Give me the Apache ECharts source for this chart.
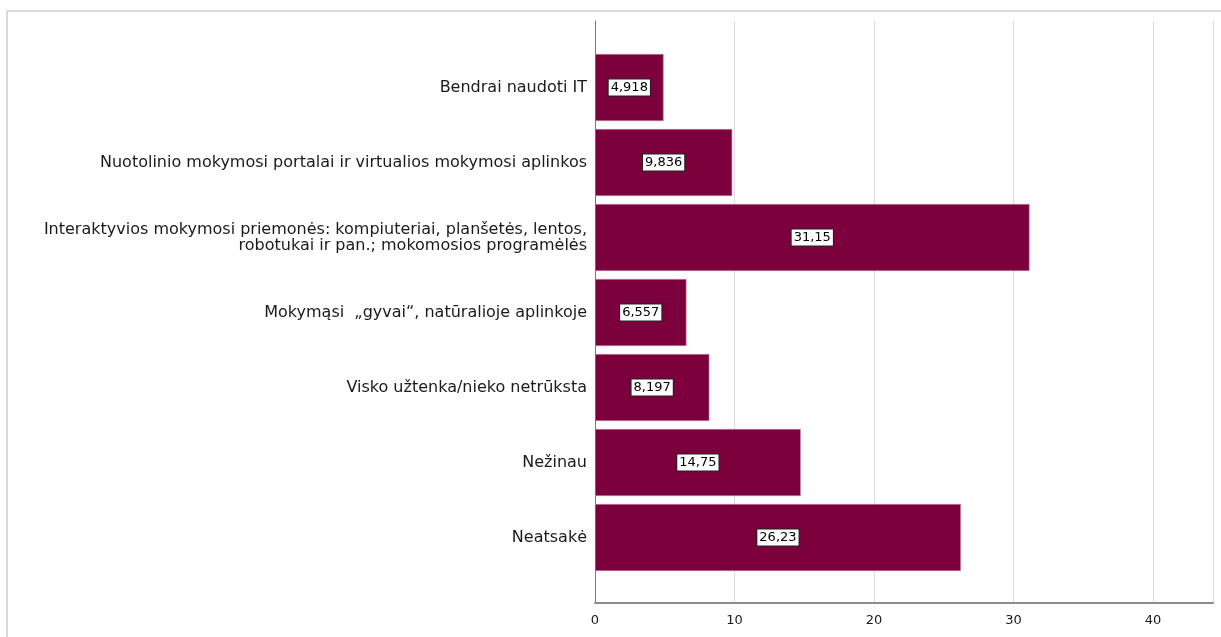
<!DOCTYPE html>
<html>
<head>
<meta charset="utf-8">
<script src="https://cdn.jsdelivr.net/npm/echarts@6/dist/echarts.min.js"></script>
<style>
  html, body { margin: 0; padding: 0; background: #fff; }
  #container { width: 1221px; height: 637px; }
</style>
</head>
<body>
<div id="container"></div>
<script>
// kategorijos (iš viršaus į apačią)
const categories = [
  'Bendrai naudoti IT',
  'Nuotolinio mokymosi portalai ir virtualios mokymosi aplinkos',
  'Interaktyvios mokymosi priemonės: kompiuteriai, planšetės, lentos,\nrobotukai ir pan.; mokomosios programėlės',
  'Mokymąsi  „gyvai“, natūralioje aplinkoje',
  'Visko užtenka/nieko netrūksta',
  'Nežinau',
  'Neatsakė'
];
const values = [4.918, 9.836, 31.15, 6.557, 8.197, 14.75, 26.23];
const valueLabels = ['4,918', '9,836', '31,15', '6,557', '8,197', '14,75', '26,23'];
const xTicks = [0, 10, 20, 30, 40];

const xMax = 44.3;
const font = 'DejaVu Sans, Liberation Sans, sans-serif';

let chart = echarts.init(document.getElementById('container'));
let option = {
  backgroundColor: '#fff',
  animation: false,
  graphic: [{
    type: 'rect',
    shape: { x: 7, y: 11, width: 1300, height: 700 },
    style: { fill: 'none', stroke: '#d9d9d9', lineWidth: 2 },
    silent: true
  }],
  grid: [
    // ašys + tinklelis
    { left: 595, right: 8, top: 21, bottom: 34 },
    // stulpeliai
    { left: 595, right: 8, top: 50, bottom: 62 }
  ],
  xAxis: [{
    gridIndex: 0,
    type: 'value',
    min: 0,
    max: xMax,
    interval: 10,
    axisLine: { show: true, lineStyle: { color: '#8c8c8c', width: 2 } },
    axisTick: { show: false },
    axisLabel: {
      color: '#1a1a1a',
      fontFamily: font,
      fontSize: 13,
      margin: 11,
      showMaxLabel: false,
      formatter: function (v) { return xTicks.indexOf(v) > -1 ? String(v) : ''; }
    },
    splitLine: { show: true, lineStyle: { color: '#dcdcdc', width: 1 } }
  }, {
    gridIndex: 1,
    type: 'value',
    min: 0,
    max: xMax,
    show: false
  }],
  yAxis: [{
    gridIndex: 0,
    type: 'value',
    axisLine: { show: true, lineStyle: { color: '#777', width: 1 } },
    axisTick: { show: false },
    axisLabel: { show: false },
    splitLine: { show: false }
  }, {
    gridIndex: 1,
    type: 'category',
    inverse: true,
    data: categories,
    axisLine: { show: false },
    axisTick: { show: false },
    axisLabel: {
      color: '#1a1a1a',
      fontFamily: font,
      fontSize: 16,
      margin: 8,
      align: 'right',
      lineHeight: 16
    },
    splitLine: { show: false }
  }],
  series: [{
    type: 'bar',
    xAxisIndex: 1,
    yAxisIndex: 1,
    data: values,
    barWidth: 67,
    itemStyle: {
      color: '#7b003c',
      borderColor: '#c890a8',
      borderWidth: 0.6
    },
    label: {
      show: true,
      position: 'inside',
      formatter: function (p) { return valueLabels[p.dataIndex]; },
      color: '#000',
      fontFamily: font,
      fontSize: 13,
      backgroundColor: '#fff',
      borderColor: '#222',
      borderWidth: 1,
      padding: [2, 2, 1, 2]
    }
  }]
};
chart.setOption(option);
</script>
</body>
</html>
